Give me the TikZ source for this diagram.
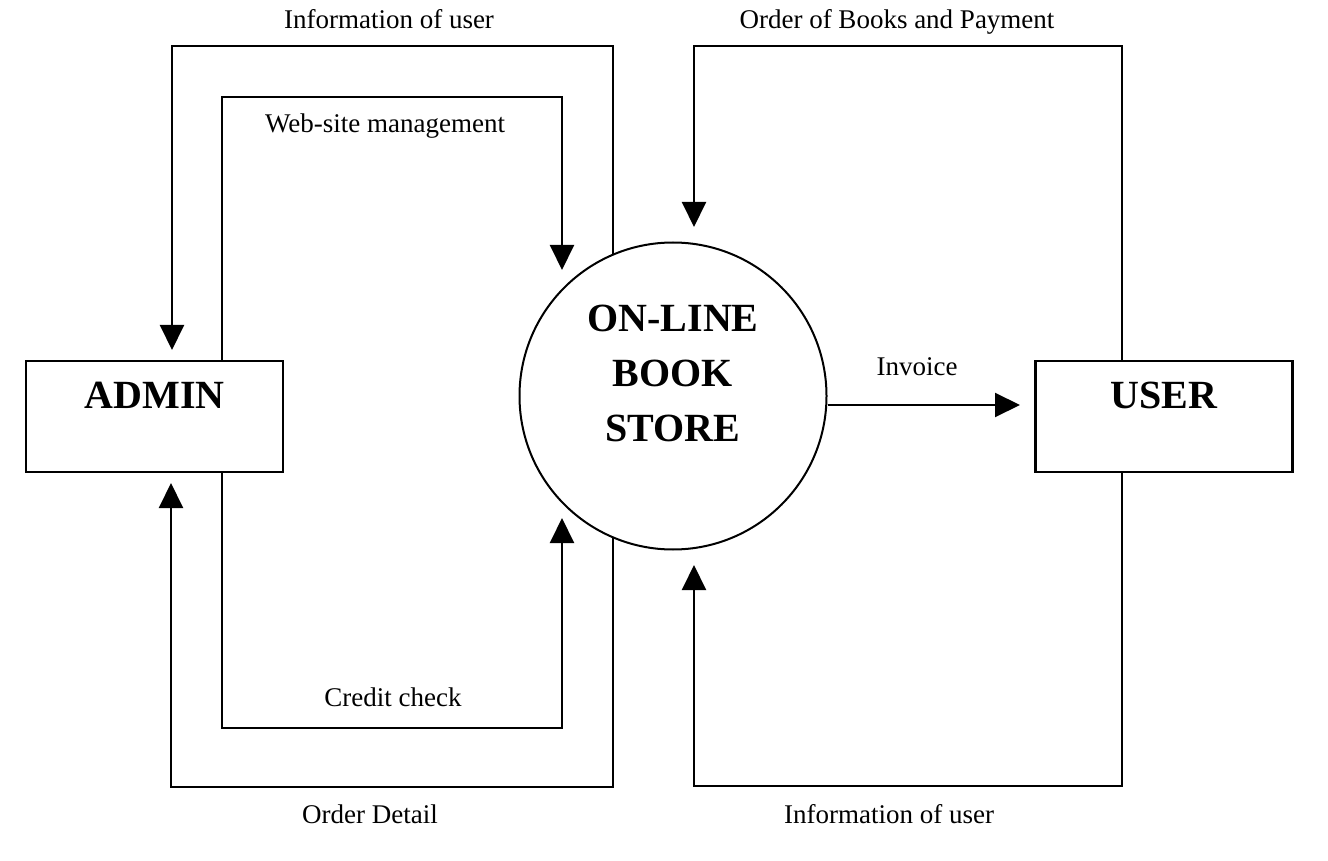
\documentclass[tikz,border=0pt]{standalone}
\usepackage{fontspec}
\setmainfont{Liberation Serif}
\usetikzlibrary{arrows.meta,calc}
\begin{document}
\begin{tikzpicture}[x=0.5pt,y=-0.5pt,
  flow/.style={line width=1pt,-{Triangle[width=12pt,length=12.5pt]}},
  lbl/.style={font=\fontsize{13.5}{16}\selectfont, anchor=base, inner sep=0pt},
  ent/.style={draw, line width=1.2pt, minimum width=128.5pt, minimum height=55.5pt,
    inner sep=0pt, font=\fontsize{20}{24}\selectfont\bfseries, text height=14pt, text depth=22pt}]
\useasboundingbox (0,0) rectangle (1328,861);
\node[ent] (admin) at (154.5,416.5) {ADMIN};
\node[ent] (user) at (1164,416.5) {USER};
\node[draw, circle, line width=1pt, minimum size=153.5pt, inner sep=0pt] (c) at (673,396) {};
\node[font=\fontsize{20}{27.5}\selectfont\bfseries, align=center, inner sep=0pt] (ct) at (673,373) {ON-LINE\\BOOK\\STORE};

\node[lbl] (l1) at (389,29) {Information of user};
\node[lbl] (l2) at (385,133) {Web-site management};
\node[lbl] (l3) at (393,706) {Credit check};
\node[lbl] (l4) at (370,823) {Order Detail};
\node[lbl] (l5) at (897,29) {Order of Books and Payment};
\node[lbl] (l6) at (889,823) {Information of user};
\node[lbl] (l7) at (917,375) {Invoice};

\coordinate (t1) at (172,350);
\coordinate (t2) at (562,270);
\coordinate (t3) at (562,518);
\coordinate (t4) at (171,483);
\coordinate (t5) at (694,227);
\coordinate (t6) at (694,565);
\coordinate (t7) at (1020,405);

\draw[flow] (c.113.5) |- (172,46) -- (t1);
\draw[flow] (admin.north -| 222,0) |- (562,97) -- (t2);
\draw[flow] (admin.south -| 222,0) |- (562,728) -- (t3);
\draw[flow] (c.-113.5) |- (171,787) -- (t4);
\draw[flow] (user.north -| 1122,0) |- (694,46) -- (t5);
\draw[flow] (user.south -| 1122,0) |- (694,786) -- (t6);
\draw[flow] (t7 -| c.east) -- (t7);
\end{tikzpicture}
\end{document}
